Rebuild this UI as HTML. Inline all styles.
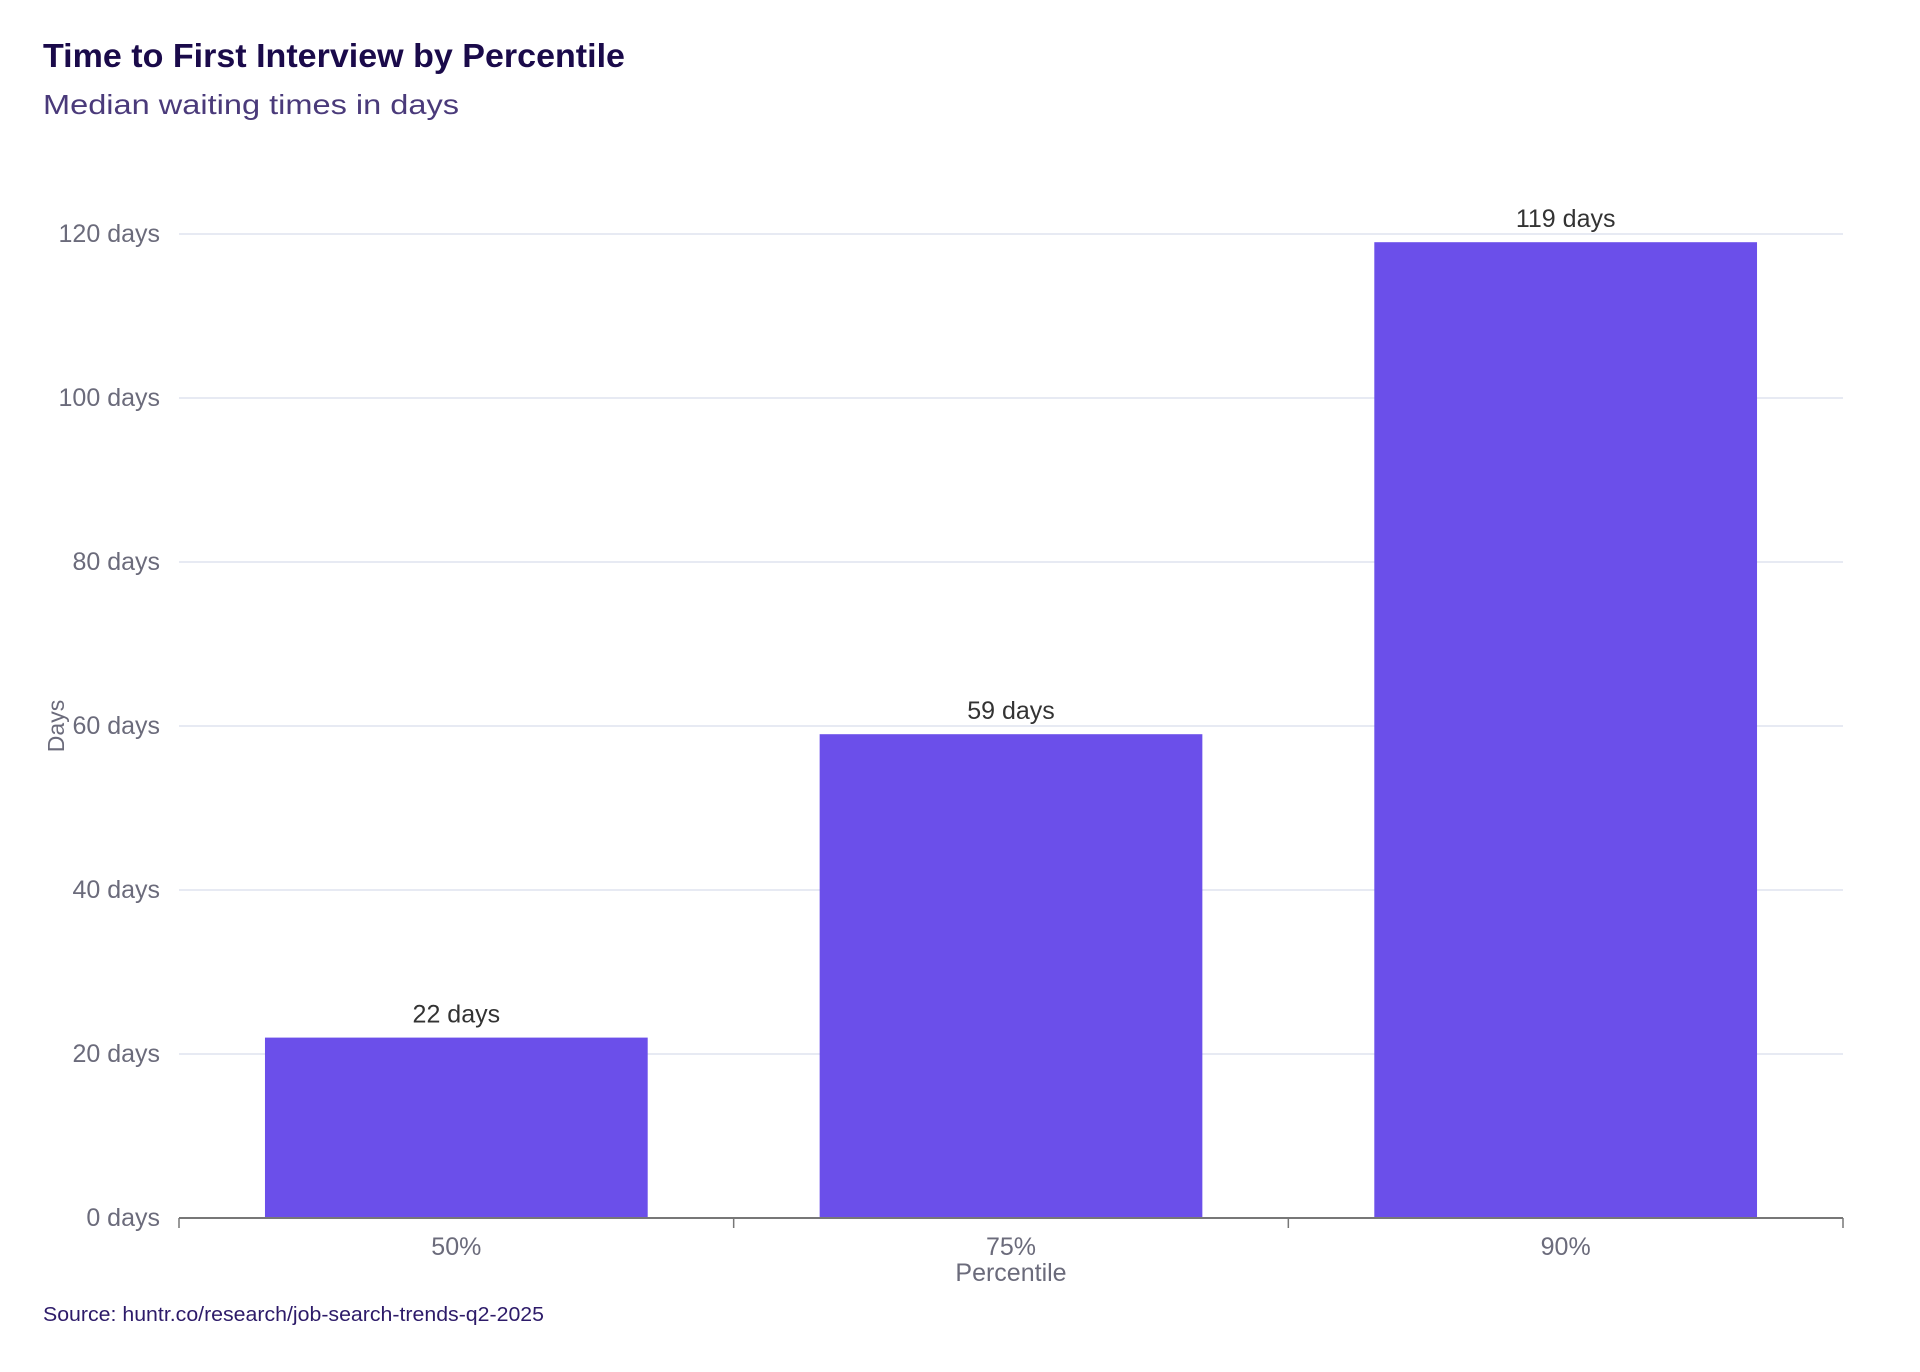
<!DOCTYPE html>
<html><head><meta charset="utf-8"><style>
html,body{margin:0;padding:0;background:#fff;width:1920px;height:1372px;overflow:hidden}
svg{display:block;font-family:"Liberation Sans",sans-serif}
</style></head><body>
<svg id="chart" width="1920" height="1372" viewBox="0 0 1920 1372">
<text x="43" y="67" font-size="33" font-weight="bold" fill="#1a0a4a" textLength="582" lengthAdjust="spacingAndGlyphs">Time to First Interview by Percentile</text>
<text x="43" y="114" font-size="28" fill="#4a3a7a" textLength="416" lengthAdjust="spacingAndGlyphs">Median waiting times in days</text>
<g id="grid"></g><g id="bars"></g><g id="axes"></g>
<text transform="translate(64,726) rotate(-90)" text-anchor="middle" font-size="23" fill="#6b6b7b">Days</text>
<text x="1011" y="1281" text-anchor="middle" font-size="25" fill="#6b6b7b">Percentile</text>
<text x="43" y="1321" font-size="20" fill="#2d1b69" textLength="501" lengthAdjust="spacingAndGlyphs">Source: huntr.co/research/job-search-trends-q2-2025</text>
</svg>
<script>
const categories = ["50%", "75%", "90%"];
const values = [22, 59, 119];
const valueLabels = ["22 days", "59 days", "119 days"];
const yTicks = [0, 20, 40, 60, 80, 100, 120];
const yTickLabels = ["0 days", "20 days", "40 days", "60 days", "80 days", "100 days", "120 days"];

const NS = "http://www.w3.org/2000/svg";
const x0 = 179, x1 = 1843, yBase = 1218, yTop = 234, yMax = 120;
const band = (x1 - x0) / categories.length;
const pad = 0.155;
const y = v => yBase - (v / yMax) * (yBase - yTop);
const xBand = i => x0 + i * band;
function mk(tag, attrs, parent) {
  const e = document.createElementNS(NS, tag);
  for (const k in attrs) e.setAttribute(k, attrs[k]);
  parent.appendChild(e);
  return e;
}
const grid = document.getElementById('grid'), bars = document.getElementById('bars'), axes = document.getElementById('axes');
yTicks.forEach((t, i) => {
  if (t > 0) {
    const l = mk('line', {x1: x0, x2: x1, y1: y(t), y2: y(t), stroke: '#dfe3ef', 'stroke-width': 1.5}, grid);
    
    
  }
  const tx = mk('text', {x: 160, y: y(t) + 8, 'text-anchor': 'end', 'font-size': 25, fill: '#6b6b7b'}, axes);
  tx.textContent = yTickLabels[i];
  
  
});
categories.forEach((c, i) => {
  const bx = xBand(i) + band * pad, bw = band * (1 - 2 * pad);
  const r = mk('rect', {x: bx, y: y(values[i]), width: bw, height: yBase - y(values[i]), fill: '#6b4fea'}, bars);
  
  
  const vl = mk('text', {x: bx + bw / 2, y: y(values[i]) - 15, 'text-anchor': 'middle', 'font-size': 25, fill: '#333'}, bars);
  vl.textContent = valueLabels[i];
  
  
  const xl = mk('text', {x: bx + bw / 2, y: 1255, 'text-anchor': 'middle', 'font-size': 25, fill: '#6b6b7b'}, axes);
  xl.textContent = c;
  
  
});
const ax = mk('line', {x1: x0, x2: x1, y1: yBase, y2: yBase, stroke: '#777', 'stroke-width': 2}, axes);


for (let i = 0; i <= categories.length; i++) {
  const tk = mk('line', {x1: xBand(i), x2: xBand(i), y1: yBase, y2: yBase + 10, stroke: '#777', 'stroke-width': 1.5}, axes);
  
  
}
</script>
</body></html>
